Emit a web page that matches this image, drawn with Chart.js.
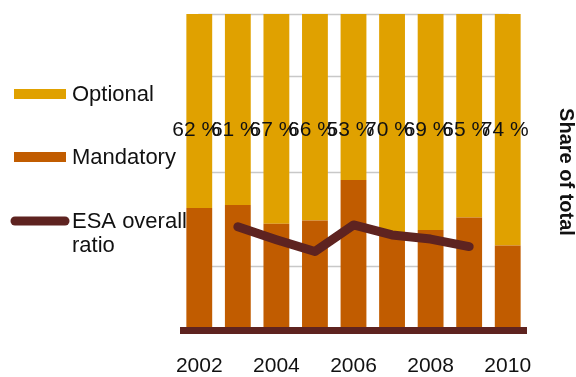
<!DOCTYPE html>
<html>
<head>
<meta charset="utf-8">
<script src="https://cdn.jsdelivr.net/npm/chart.js@4.4.1/dist/chart.umd.min.js"></script>
<style>
  html, body { margin: 0; padding: 0; background: #fff; }
</style>
</head>
<body>
<canvas id="chart" width="576" height="377"></canvas>
<script>
const years = ['2002', '2003', '2004', '2005', '2006', '2007', '2008', '2009', '2010'];
const tickLabels = ['2002', '', '2004', '', '2006', '', '2008', '', '2010'];
const optional = [62, 61, 67, 66, 53, 70, 69, 65, 74];
const mandatory = [38, 39, 33, 34, 47, 30, 31, 35, 26];
const esaRatio = [null, 32.0, 27.9, 24.1, 32.6, 29.4, 28.1, 25.7, null];
const gridValues = [19.5, 49.5, 80.2, 100];
const labelLevel = 63;

const GOLD = '#e0a100';
const ORANGE = '#c15c00';
const BROWN = '#5e2320';
const FONT = '"Liberation Sans", Arial, sans-serif';

// light rules between first and last category, behind the bars
const gridRules = {
  id: 'gridRules',
  beforeDatasetsDraw(chart) {
    const { ctx, scales: { x, y } } = chart;
    const x0 = x.getPixelForValue(0) - 1;
    const x1 = x.getPixelForValue(years.length - 1) + 1;
    ctx.save();
    ctx.strokeStyle = '#c8c8c8';
    ctx.lineWidth = 1.5;
    gridValues.forEach(v => {
      const py = Math.round(y.getPixelForValue(v)) + 0.5;
      ctx.beginPath();
      ctx.moveTo(x0, py);
      ctx.lineTo(x1, py);
      ctx.stroke();
    });
    ctx.restore();
  }
};

// thick base line + the percentage row
const overlay = {
  id: 'overlay',
  afterDatasetsDraw(chart) {
    const { ctx, chartArea, scales: { x, y } } = chart;
    ctx.save();
    ctx.fillStyle = BROWN;
    ctx.fillRect(chartArea.left, y.getPixelForValue(0), chartArea.right - chartArea.left, 7);

    ctx.font = '21px ' + FONT;
    ctx.fillStyle = '#111';
    ctx.textAlign = 'center';
    ctx.textBaseline = 'middle';
    const py = y.getPixelForValue(labelLevel);
    optional.forEach((v, i) => {
      ctx.fillText(v + ' %', x.getPixelForValue(i) - 3, py);
    });
    ctx.restore();
  }
};

// legend on the left and the rotated title on the right
const sideText = {
  id: 'sideText',
  afterDraw(chart) {
    const ctx = chart.ctx;
    ctx.save();
    ctx.textAlign = 'left';
    ctx.textBaseline = 'middle';
    ctx.font = '22px ' + FONT;

    ctx.fillStyle = GOLD;
    ctx.fillRect(14, 89, 52, 10);
    ctx.fillStyle = ORANGE;
    ctx.fillRect(14, 152, 52, 10);

    ctx.strokeStyle = BROWN;
    ctx.lineWidth = 9;
    ctx.lineCap = 'round';
    ctx.beginPath();
    ctx.moveTo(15, 221);
    ctx.lineTo(65, 221);
    ctx.stroke();

    ctx.fillStyle = '#111';
    ctx.fillText('Optional', 72, 95);
    ctx.fillText('Mandatory', 72, 158);
    ctx.fillText('ESA overall', 72, 222);
    ctx.fillText('ratio', 72, 246);

    ctx.translate(566, 172);
    ctx.rotate(Math.PI / 2);
    ctx.textAlign = 'center';
    ctx.font = 'bold 20px ' + FONT;
    ctx.fillText('Share of total', 0, 0);
    ctx.restore();
  }
};

new Chart(document.getElementById('chart'), {
  type: 'bar',
  data: {
    labels: years,
    datasets: [
      {
        type: 'line',
        label: 'ESA overall ratio',
        data: esaRatio,
        stack: 'line',
        order: 0,
        borderColor: BROWN,
        borderWidth: 9,
        borderCapStyle: 'round',
        borderJoinStyle: 'round',
        pointRadius: 0,
        tension: 0,
        fill: false
      },
      {
        label: 'Mandatory',
        data: mandatory,
        stack: 'bars',
        order: 1,
        backgroundColor: ORANGE,
        barPercentage: 0.67,
        categoryPercentage: 1
      },
      {
        label: 'Optional',
        data: optional,
        stack: 'bars',
        order: 1,
        backgroundColor: GOLD,
        barPercentage: 0.67,
        categoryPercentage: 1
      }
    ]
  },
  options: {
    responsive: false,
    animation: false,
    devicePixelRatio: 1,
    layout: { padding: { left: 180, right: 49, top: 14, bottom: 0 } },
    plugins: {
      legend: { display: false },
      tooltip: { enabled: false }
    },
    scales: {
      x: {
        stacked: true,
        grid: { display: false, drawTicks: false },
        border: { display: false },
        ticks: {
          autoSkip: false,
          maxRotation: 0,
          padding: 27,
          color: '#111',
          font: { family: FONT, size: 21 },
          callback: (v, i) => tickLabels[i]
        },
        afterFit: scale => { scale.height = 50; }
      },
      y: {
        display: false,
        stacked: true,
        min: 0,
        max: 100
      }
    }
  },
  plugins: [gridRules, overlay, sideText]
});
</script>
</body>
</html>
